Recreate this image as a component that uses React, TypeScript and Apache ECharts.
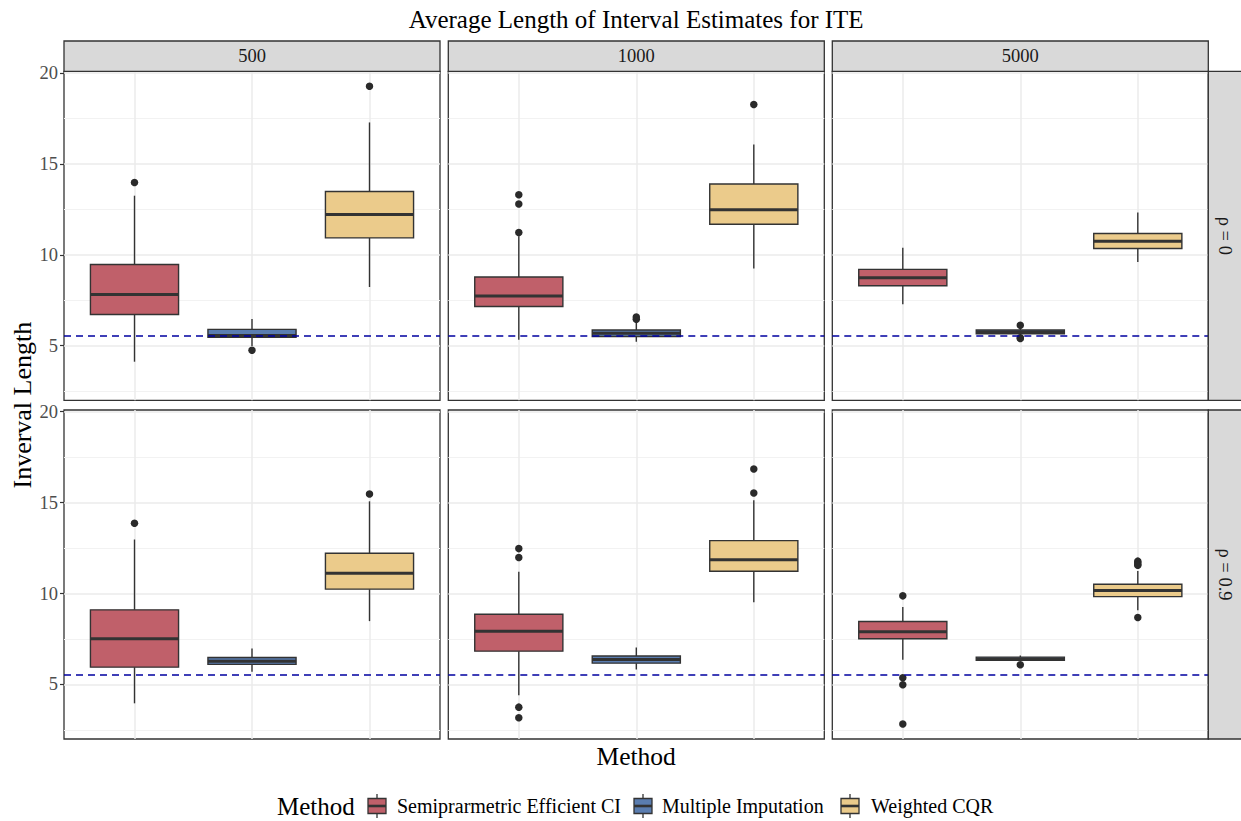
import React, { useEffect, useRef } from "react";
import * as echarts from "echarts";

// Facets
const sampleSizes = ["500", "1000", "5000"];
const rhoLabels = ["ρ = 0", "ρ = 0.9"];

// Methods (legend order) and fills
const methods = ["Semiprarmetric Efficient CI", "Multiple Imputation", "Weighted CQR"];
const methodColors = ["#C0606A", "#5A7DB0", "#EBCB8B"];

// Axis ticks
const yTicks = [5, 10, 15, 20];
const yMinorTicks = [2.5, 7.5, 12.5, 17.5];
const referenceLength = 5.55;

// Box statistics per method: [lower whisker, Q1, median, Q3, upper whisker]
const statsRho0N500 = [
  [4.12, 6.72, 7.81, 9.47, 13.25],
  [4.98, 5.46, 5.56, 5.9, 6.47],
  [8.23, 10.93, 12.22, 13.48, 17.28],
];
const statsRho0N1000 = [
  [5.33, 7.16, 7.74, 8.78, 11.02],
  [5.22, 5.51, 5.69, 5.86, 6.28],
  [9.24, 11.68, 12.48, 13.89, 16.06],
];
const statsRho0N5000 = [
  [7.28, 8.3, 8.74, 9.2, 10.39],
  [5.58, 5.66, 5.76, 5.86, 5.96],
  [9.6, 10.35, 10.75, 11.17, 12.32],
];
const statsRho09N500 = [
  [3.96, 5.95, 7.51, 9.1, 12.97],
  [5.69, 6.1, 6.28, 6.48, 6.98],
  [8.48, 10.24, 11.12, 12.21, 15.07],
];
const statsRho09N1000 = [
  [4.4, 6.83, 7.93, 8.86, 11.19],
  [5.82, 6.17, 6.37, 6.56, 7.03],
  [9.52, 11.22, 11.85, 12.91, 15.13],
];
const statsRho09N5000 = [
  [6.35, 7.51, 7.89, 8.46, 9.26],
  [6.3, 6.32, 6.4, 6.5, 6.59],
  [9.08, 9.83, 10.16, 10.51, 11.24],
];

// Outliers per method
const outliersRho0N500 = [[13.98], [4.75], [19.27]];
const outliersRho0N1000 = [[13.3, 12.79, 11.22], [6.46, 6.58], [18.27]];
const outliersRho0N5000 = [[], [6.12, 5.44, 5.4], []];
const outliersRho09N500 = [[13.86], [], [15.47]];
const outliersRho09N1000 = [[12.47, 11.98, 3.75, 3.17], [], [16.85, 15.53]];
const outliersRho09N5000 = [[9.87, 5.36, 4.98, 2.82], [6.08], [11.78, 11.7, 11.6, 11.55, 8.68]];

const panelStats = [
  [statsRho0N500, statsRho0N1000, statsRho0N5000],
  [statsRho09N500, statsRho09N1000, statsRho09N5000],
];
const panelOutliers = [
  [outliersRho0N500, outliersRho0N1000, outliersRho0N5000],
  [outliersRho09N500, outliersRho09N1000, outliersRho09N5000],
];

// Layout
const FONT = "'Liberation Serif', 'Times New Roman', serif";
const INK = "#333333";
const colLeft = [64, 448.3, 832.3];
const rowTop = [71.3, 410];
const panelW = 376;
const panelH = 329;
const stripTop = 41;
const boxWidth = 0.75;

function buildOption() {
  const allValues: number[] = [];
  panelStats.flat().forEach((p) => p.forEach((s) => allValues.push(...s)));
  panelOutliers.flat().forEach((p) => p.forEach((o) => allValues.push(...o)));
  const lo = Math.min(...allValues);
  const hi = Math.max(...allValues);
  const pad = (hi - lo) * 0.05;
  const yMin = lo - pad;
  const yMax = hi + pad;

  const grid: any[] = [];
  const xAxis: any[] = [];
  const yAxis: any[] = [];
  const series: any[] = [];
  const graphic: any[] = [];

  for (let r = 0; r < 2; r++) {
    for (let c = 0; c < 3; c++) {
      const k = r * 3 + c;
      grid.push({
        left: colLeft[c],
        top: rowTop[r],
        width: panelW,
        height: panelH,
        show: true,
        backgroundColor: "#ffffff",
        borderColor: INK,
        borderWidth: 1.3,
      });
      xAxis.push({
        gridIndex: k,
        type: "value",
        min: 0.4,
        max: 3.6,
        axisLine: { show: false },
        axisTick: { show: false },
        axisLabel: { show: false },
        splitLine: { show: false },
      });
      yAxis.push({
        gridIndex: k,
        type: "value",
        min: yMin,
        max: yMax,
        axisLine: { show: false },
        splitLine: { show: false },
        axisTick: {
          show: c === 0,
          customValues: yTicks,
          length: 4,
          lineStyle: { color: INK, width: 1.2 },
        },
        axisLabel: {
          show: c === 0,
          customValues: yTicks,
          margin: 6,
          color: "#4D4D4D",
          fontSize: 18.5,
          fontFamily: FONT,
        },
      });

      // Panel grid lines
      series.push({
        type: "line",
        xAxisIndex: k,
        yAxisIndex: k,
        data: [],
        silent: true,
        markLine: {
          silent: true,
          z: 1,
          symbol: ["none", "none"],
          label: { show: false },
          emphasis: { disabled: true },
          data: [
            ...yMinorTicks.map((v) => ({ yAxis: v, lineStyle: { color: "#F2F2F2", width: 1, type: "solid" } })),
            ...yTicks.map((v) => ({ yAxis: v, lineStyle: { color: "#EBEBEB", width: 1.5, type: "solid" } })),
            ...methods.map((_, i) => ({ xAxis: i + 1, lineStyle: { color: "#EBEBEB", width: 1.5, type: "solid" } })),
          ],
        },
      });

      // Boxes
      const stats = panelStats[r][c];
      series.push({
        type: "custom",
        xAxisIndex: k,
        yAxisIndex: k,
        z: 2,
        silent: true,
        encode: { x: 0, y: [1, 2, 3, 4, 5] },
        data: stats.map((s, i) => [i + 1, ...s, i]),
        renderItem: (_params: any, api: any) => {
          const x = api.value(0) as number;
          const idx = api.value(6) as number;
          const pLow = api.coord([x, api.value(1)]);
          const cx = pLow[0];
          const yLow = pLow[1];
          const yQ1 = api.coord([x, api.value(2)])[1];
          const yMed = api.coord([x, api.value(3)])[1];
          const yQ3 = api.coord([x, api.value(4)])[1];
          const yHigh = api.coord([x, api.value(5)])[1];
          const w = api.size([boxWidth, 0])[0];
          const ink = { stroke: INK, lineWidth: 1.4 };
          return {
            type: "group",
            children: [
              { type: "line", shape: { x1: cx, y1: yQ3, x2: cx, y2: yHigh }, style: ink },
              { type: "line", shape: { x1: cx, y1: yQ1, x2: cx, y2: yLow }, style: ink },
              {
                type: "rect",
                shape: { x: cx - w / 2, y: yQ3, width: w, height: yQ1 - yQ3 },
                style: { fill: methodColors[idx], stroke: INK, lineWidth: 1.4 },
              },
              {
                type: "line",
                shape: { x1: cx - w / 2, y1: yMed, x2: cx + w / 2, y2: yMed },
                style: { stroke: INK, lineWidth: 3 },
              },
            ],
          };
        },
      });

      // Outliers and the reference length
      const outs = panelOutliers[r][c];
      const outPts: number[][] = [];
      outs.forEach((arr, i) => arr.forEach((v) => outPts.push([i + 1, v])));
      series.push({
        type: "scatter",
        xAxisIndex: k,
        yAxisIndex: k,
        z: 3,
        silent: true,
        symbol: "circle",
        symbolSize: 7.5,
        itemStyle: { color: "#2A2A2A", opacity: 1 },
        data: outPts,
        markLine: {
          silent: true,
          z: 5,
          symbol: ["none", "none"],
          label: { show: false },
          emphasis: { disabled: true },
          lineStyle: { color: "#0000A0", width: 1.6, type: [7, 5], opacity: 1 },
          data: [{ yAxis: referenceLength }],
        },
      });
    }
  }

  // Column strips
  sampleSizes.forEach((s, c) => {
    graphic.push({
      type: "rect",
      shape: { x: colLeft[c], y: stripTop, width: panelW, height: rowTop[0] - stripTop },
      style: { fill: "#D9D9D9", stroke: INK, lineWidth: 1.3 },
      z: 10,
    });
    graphic.push({
      type: "text",
      x: colLeft[c] + panelW / 2,
      y: (stripTop + rowTop[0]) / 2,
      style: {
        text: s,
        fill: "#1A1A1A",
        font: `18.5px ${FONT}`,
        align: "center",
        verticalAlign: "middle",
      },
      z: 11,
    });
  });

  // Row strips
  const stripX = colLeft[2] + panelW;
  rhoLabels.forEach((lab, r) => {
    graphic.push({
      type: "rect",
      shape: { x: stripX, y: rowTop[r], width: 40, height: panelH },
      style: { fill: "#D9D9D9", stroke: INK, lineWidth: 1.3 },
      z: 10,
    });
    graphic.push({
      type: "text",
      x: stripX + 17,
      y: rowTop[r] + panelH / 2,
      rotation: -Math.PI / 2,
      style: {
        text: lab,
        fill: "#1A1A1A",
        font: `18.5px ${FONT}`,
        align: "center",
        verticalAlign: "middle",
      },
      z: 11,
    });
  });

  // Plot title, centred over the panel area
  graphic.push({
    type: "text",
    x: (colLeft[0] + colLeft[2] + panelW) / 2,
    y: 19,
    style: {
      text: "Average Length of Interval Estimates for ITE",
      fill: "#000",
      font: `25px ${FONT}`,
      align: "center",
      verticalAlign: "middle",
    },
  });

  // Axis titles
  graphic.push({
    type: "text",
    x: (colLeft[0] + colLeft[2] + panelW) / 2,
    y: 756,
    style: { text: "Method", fill: "#000", font: `25.5px ${FONT}`, align: "center", verticalAlign: "middle" },
  });
  graphic.push({
    type: "text",
    x: 22,
    y: (rowTop[0] + rowTop[1] + panelH) / 2,
    rotation: Math.PI / 2,
    style: { text: "Inverval Length", fill: "#000", font: `26px ${FONT}`, align: "center", verticalAlign: "middle" },
  });

  // Legend
  const legendY = 806;
  graphic.push({
    type: "text",
    x: 277,
    y: legendY,
    style: { text: "Method", fill: "#000", font: `25px ${FONT}`, align: "left", verticalAlign: "middle" },
  });
  const keyCenters = [377, 643, 850];
  const labelStarts = [397, 662, 871];
  methods.forEach((m, i) => {
    const kx = keyCenters[i];
    graphic.push({
      type: "group",
      children: [
        { type: "line", shape: { x1: kx, y1: legendY - 12, x2: kx, y2: legendY + 12 }, style: { stroke: INK, lineWidth: 1.3 } },
        {
          type: "rect",
          shape: { x: kx - 9, y: legendY - 7.5, width: 18, height: 15 },
          style: { fill: methodColors[i], stroke: INK, lineWidth: 1.3 },
        },
        { type: "line", shape: { x1: kx - 9, y1: legendY, x2: kx + 9, y2: legendY }, style: { stroke: INK, lineWidth: 2.6 } },
      ],
    });
    graphic.push({
      type: "text",
      x: labelStarts[i],
      y: legendY,
      style: { text: m, fill: "#000", font: `20px ${FONT}`, align: "left", verticalAlign: "middle" },
    });
  });

  return {
    animation: false,
    backgroundColor: "#ffffff",
    textStyle: { fontFamily: FONT },
    grid,
    xAxis,
    yAxis,
    series,
    graphic,
  };
}

export default function App() {
  const ref = useRef<HTMLDivElement>(null);
  useEffect(() => {
    if (!ref.current) return;
    const chart = echarts.init(ref.current, undefined, { renderer: "svg" });
    chart.setOption(buildOption() as any);
    return () => chart.dispose();
  }, []);
  return (
    <div
      ref={ref}
      style={{ position: "fixed", left: 0, top: 0, width: 1241, height: 821, background: "#fff" }}
    />
  );
}
